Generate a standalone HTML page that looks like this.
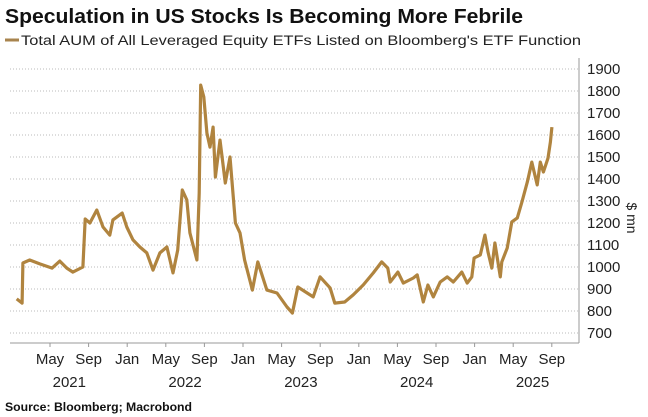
<!DOCTYPE html>
<html><head><meta charset="utf-8"><style>
html,body{margin:0;padding:0;background:#fff;}
svg{display:block;font-family:"Liberation Sans",sans-serif;}
</style></head><body>
<svg id="chart" width="648" height="417" viewBox="0 0 648 417">
<text x="5" y="23" font-size="20" font-weight="bold" fill="#111" textLength="518" lengthAdjust="spacingAndGlyphs">Speculation in US Stocks Is Becoming More Febrile</text>
<line x1="5" y1="40" x2="19" y2="40" stroke="#a8844e" stroke-width="3"/>
<text x="21" y="45" font-size="13.5" fill="#222" textLength="560" lengthAdjust="spacingAndGlyphs">Total AUM of All Leveraged Equity ETFs Listed on Bloomberg's ETF Function</text>
<g id="grid"></g>
<line x1="10" y1="343" x2="579" y2="343" stroke="#999" stroke-width="1"/>
<line x1="579" y1="58" x2="579" y2="343" stroke="#999" stroke-width="1"/>
<g id="yticks"></g>
<g id="xticks"></g>
<text transform="translate(627,218) rotate(90)" font-size="14" fill="#222" text-anchor="middle">$ mn</text>
<path id="series" fill="none" stroke="#b0843f" stroke-width="3.2" stroke-linejoin="round"/>
<text x="5" y="411" font-size="12" font-weight="bold" fill="#111" textLength="187" lengthAdjust="spacingAndGlyphs">Source: Bloomberg; Macrobond</text>
</svg>
<script>
const yTicks = [700,800,900,1000,1100,1200,1300,1400,1500,1600,1700,1800,1900];
const xTickMonths = [4,8,12,16,20,24,28,32,36,40,44,48,52,56];
const xTickLabels = ["May","Sep","Jan","May","Sep","Jan","May","Sep","Jan","May","Sep","Jan","May","Sep"];
const yearMonths = [6,18,30,42,54];
const yearLabels = ["2021","2022","2023","2024","2025"];
const months = [0.55,1.11,1.19,1.90,2.94,4.22,5.02,5.74,6.37,7.41,7.65,8.13,8.85,9.49,10.20,10.52,11.48,11.96,12.60,13.32,14.03,14.67,15.39,16.11,16.75,17.23,17.71,18.18,18.50,19.22,19.46,19.62,19.94,20.26,20.58,20.90,21.14,21.62,22.17,22.65,23.21,23.69,24.17,24.97,25.53,26.48,27.52,28.56,29.12,29.68,31.27,31.99,33.03,33.51,34.54,35.42,36.46,37.50,38.37,39.01,39.25,40.05,40.61,41.65,42.05,42.68,43.16,43.72,44.44,45.16,45.79,46.67,47.23,47.71,47.95,48.59,49.07,49.39,49.78,50.10,50.66,50.82,51.38,51.86,52.42,52.90,53.46,53.93,54.49,54.81,55.13,55.61,55.85,56.01];
const aum = [855,836,1018,1032,1014,995,1027,995,977,1000,1218,1200,1259,1182,1145,1214,1245,1182,1123,1091,1064,986,1064,1091,973,1077,1350,1305,1155,1032,1336,1827,1773,1609,1545,1636,1409,1577,1382,1500,1200,1155,1032,895,1023,895,882,818,791,909,864,955,905,836,841,873,918,973,1023,995,932,977,927,950,964,841,918,864,932,955,932,977,927,955,1041,1055,1145,1068,995,1109,955,1023,1086,1205,1223,1295,1386,1477,1373,1477,1432,1495,1568,1636];

const NS = "http://www.w3.org/2000/svg";
const xs = m => 11.4 + m * 9.65;
const ys = v => 333 - (v - 700) * 0.22;
const grid = document.getElementById('grid');
const yt = document.getElementById('yticks');
const xt = document.getElementById('xticks');
yTicks.forEach(v => {
  const l = document.createElementNS(NS, 'line');
  l.setAttribute('x1', 10); l.setAttribute('x2', 578);
  l.setAttribute('y1', ys(v)); l.setAttribute('y2', ys(v));
  l.setAttribute('stroke', '#bbb'); l.setAttribute('stroke-dasharray', '1,2');
  
  
  grid.appendChild(l);
  const t = document.createElementNS(NS, 'text');
  t.setAttribute('x', 587); t.setAttribute('y', ys(v) + 5);
  t.setAttribute('font-size', '15'); t.setAttribute('fill', '#222');
  t.textContent = v;
  
  
  yt.appendChild(t);
});
xTickMonths.forEach((m, i) => {
  const l = document.createElementNS(NS, 'line');
  l.setAttribute('x1', xs(m)); l.setAttribute('x2', xs(m));
  l.setAttribute('y1', 343); l.setAttribute('y2', 347);
  l.setAttribute('stroke', '#999');
  
  
  xt.appendChild(l);
  const t = document.createElementNS(NS, 'text');
  t.setAttribute('x', xs(m)); t.setAttribute('y', 364);
  t.setAttribute('font-size', '15'); t.setAttribute('fill', '#222');
  t.setAttribute('text-anchor', 'middle');
  t.textContent = xTickLabels[i];
  
  
  xt.appendChild(t);
});
yearMonths.forEach((m, i) => {
  const t = document.createElementNS(NS, 'text');
  t.setAttribute('x', xs(m)); t.setAttribute('y', 387);
  t.setAttribute('font-size', '15'); t.setAttribute('fill', '#222');
  t.setAttribute('text-anchor', 'middle');
  t.textContent = yearLabels[i];
  
  
  xt.appendChild(t);
});
document.getElementById('series').setAttribute('d',
  months.map((m, i) => (i ? 'L' : 'M') + xs(m).toFixed(1) + ',' + ys(aum[i]).toFixed(1)).join(' '));
</script>
</body></html>
